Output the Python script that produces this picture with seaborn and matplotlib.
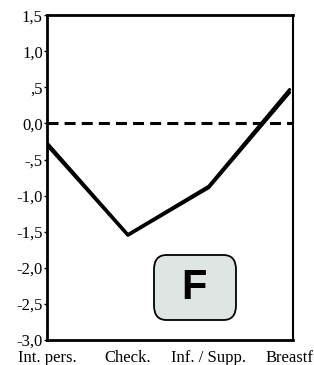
import matplotlib
matplotlib.use("Agg")
import matplotlib.pyplot as plt
import seaborn as sns
import pandas as pd
from matplotlib.patches import FancyBboxPatch

categories = ["Int. pers.", "Check.", "Inf. / Supp.", "Breastf"]
series_a = [-0.27, -1.54, -0.87, 0.47]
series_b = [-0.30, -1.55, -0.89, 0.43]
yticks = [1.5, 1.0, 0.5, 0.0, -0.5, -1.0, -1.5, -2.0, -2.5, -3.0]
ytick_labels = ["1,5", "1,0", ",5", "0,0", "-,5", "-1,0", "-1,5", "-2,0", "-2,5", "-3,0"]
panel_label = "F"

sns.set_theme(style="white")
plt.rcParams['font.family'] = ['Liberation Serif', 'DejaVu Serif']
plt.rcParams['text.color'] = 'black'
plt.rcParams['xtick.color'] = 'black'
plt.rcParams['ytick.color'] = 'black'

df = pd.DataFrame({
    "x": list(range(len(categories))) * 2,
    "y": series_a + series_b,
    "s": ["a"] * 4 + ["b"] * 4,
})

fig = plt.figure(figsize=(3.14, 3.65), dpi=100)
ax = fig.add_axes([0.1497, 0.0685, 0.783, 0.890])

sns.lineplot(data=df, x="x", y="y", units="s", estimator=None, color="black",
             linewidth=2.2, ax=ax, legend=False)
ax.axhline(0, color="black", linestyle=(0, (3.6, 2.0)), linewidth=2.2)

ax.set_xlim(0, 3.04)
ax.set_ylim(-3.0, 1.5)
ax.set_yticks(yticks)
ax.set_yticklabels(ytick_labels, fontsize=12, color="black")
ax.set_xticks(range(len(categories)))
ax.set_xticklabels(categories, fontsize=12, color="black")
ax.tick_params(axis="y", direction="out", length=2, width=1, pad=1, left=True, color="black")
ax.tick_params(axis="x", length=0, pad=7)
for lbl in ax.get_xticklabels():
    lbl.set_clip_on(False)
ax.set_xlabel("")
ax.set_ylabel("")
for side, w in [("left", 2.0), ("bottom", 2.0), ("top", 2.0), ("right", 1.5)]:
    ax.spines[side].set_visible(True)
    ax.spines[side].set_color("black")
    ax.spines[side].set_linewidth(w)

box = FancyBboxPatch((154/314, 1 - 320/365), 82/314, 65/365,
                     boxstyle="round,pad=0.0,rounding_size=0.04",
                     transform=fig.transFigure, facecolor="#dfe5e3",
                     edgecolor="black", linewidth=1.3, zorder=5)
fig.patches.append(box)
fig.text(194/314, 1 - 288/365, panel_label, ha="center", va="center", color="black",
         fontsize=30, fontweight="bold", family="Liberation Sans", zorder=6)

fig.savefig("out.png", dpi=100)
